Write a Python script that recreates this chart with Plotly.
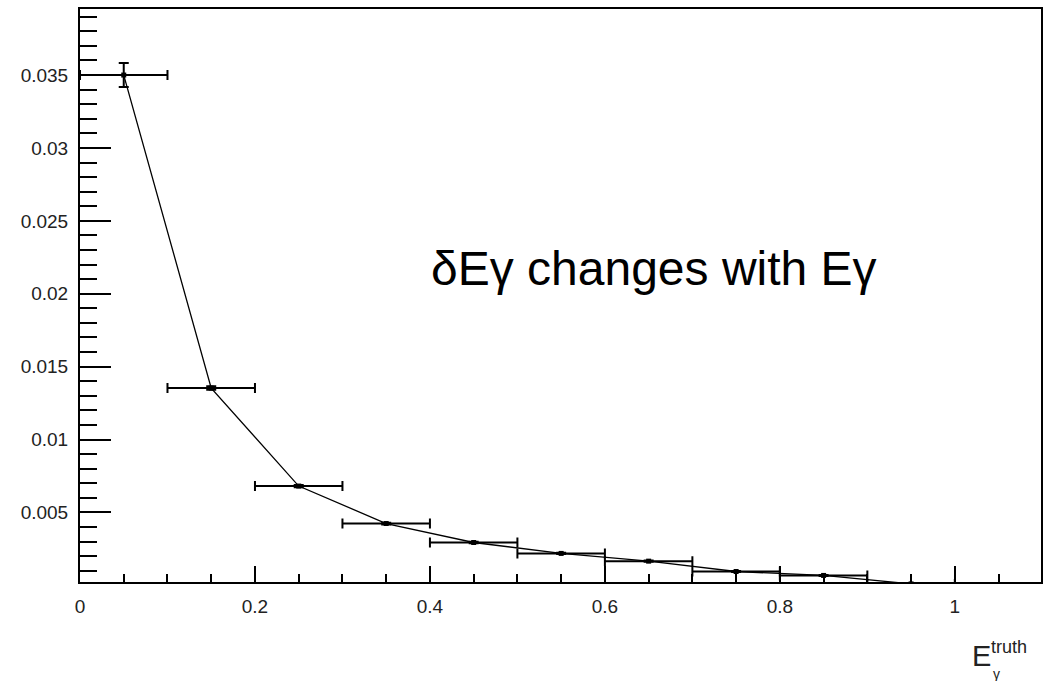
import plotly.graph_objects as go

# Photon energy bins (centres), half-widths and the resolution per bin
e_truth = [0.05, 0.15, 0.25, 0.35, 0.45, 0.55, 0.65, 0.75, 0.85, 0.95]
e_halfwidth = [0.05, 0.05, 0.05, 0.05, 0.05, 0.05, 0.05, 0.05, 0.05, 0.05]
delta_e = [0.0350, 0.01353, 0.00681, 0.00424, 0.00294, 0.00219, 0.00166, 0.00095, 0.00068, 0.00010]
delta_e_err = [0.00082, 0.00012, 0.00008, 0.00006, 0.00005, 0.00004, 0.00004, 0.00003, 0.00003, 0.00003]

title_text = "δEγ changes with Eγ"

FONT = "Liberation Sans, Arial, Helvetica, sans-serif"
W, H = 1052, 681
L, R, T, B = 80, 11, 7, 99

fig = go.Figure()
fig.add_trace(go.Scatter(
    x=e_truth,
    y=delta_e,
    mode="lines+markers",
    line=dict(color="black", width=1.3),
    marker=dict(symbol="square", size=5, color="black"),
    error_x=dict(type="data", array=e_halfwidth, color="black", thickness=2, width=5),
    error_y=dict(type="data", array=delta_e_err, color="black", thickness=2, width=5),
    showlegend=False,
))

fig.update_layout(
    width=W, height=H,
    margin=dict(l=L, r=R, t=T, b=B),
    paper_bgcolor="white",
    plot_bgcolor="white",
    font=dict(family=FONT, color="#222", size=19),
    showlegend=False,
)

fig.update_xaxes(
    range=[0, 1.0985],
    showgrid=False, zeroline=False,
    showline=True, linecolor="black", linewidth=2, mirror=True,
    ticks="inside", ticklen=16, tickwidth=2, tickcolor="black",
    tickvals=[0, 0.2, 0.4, 0.6, 0.8, 1.0],
    ticktext=["0", "0.2", "0.4", "0.6", "0.8", "1"],
    minor=dict(ticks="inside", ticklen=8, tickwidth=2, tickcolor="black", dtick=0.05, tick0=0),
    tickfont=dict(size=19, family=FONT, color="#222"),
    ticklabelstandoff=6,
)
fig.update_yaxes(
    range=[0.00023, 0.03953],
    showgrid=False, zeroline=False,
    showline=True, linecolor="black", linewidth=2, mirror=True,
    ticks="inside", ticklen=31, tickwidth=2, tickcolor="black",
    tickvals=[0.005, 0.01, 0.015, 0.02, 0.025, 0.03, 0.035],
    ticktext=["0.005", "0.01", "0.015", "0.02", "0.025", "0.03", "0.035"],
    minor=dict(ticks="inside", ticklen=17, tickwidth=2, tickcolor="black", dtick=0.001, tick0=0),
    tickfont=dict(size=19, family=FONT, color="#222"),
    ticklabelstandoff=6,
)

# Chart caption inside the frame
fig.add_annotation(
    text=title_text, xref="paper", yref="paper",
    x=0.597, y=0.547, xanchor="center", yanchor="middle",
    showarrow=False, font=dict(size=48, family=FONT, color="black"),
)

# x-axis title E_gamma^truth with stacked sub/superscript
fig.add_annotation(
    text="E", xref="paper", yref="paper",
    x=0.926, y=-0.130, xanchor="left", yanchor="middle",
    showarrow=False, font=dict(size=29, family=FONT, color="#222"),
)
fig.add_annotation(
    text="truth", xref="paper", yref="paper",
    x=0.946, y=-0.114, xanchor="left", yanchor="middle",
    showarrow=False, font=dict(size=18, family=FONT, color="#222"),
)
fig.add_annotation(
    text="γ", xref="paper", yref="paper",
    x=0.948, y=-0.160, xanchor="left", yanchor="middle",
    showarrow=False, font=dict(size=14, family=FONT, color="#222"),
)

fig.write_html("out.html")
